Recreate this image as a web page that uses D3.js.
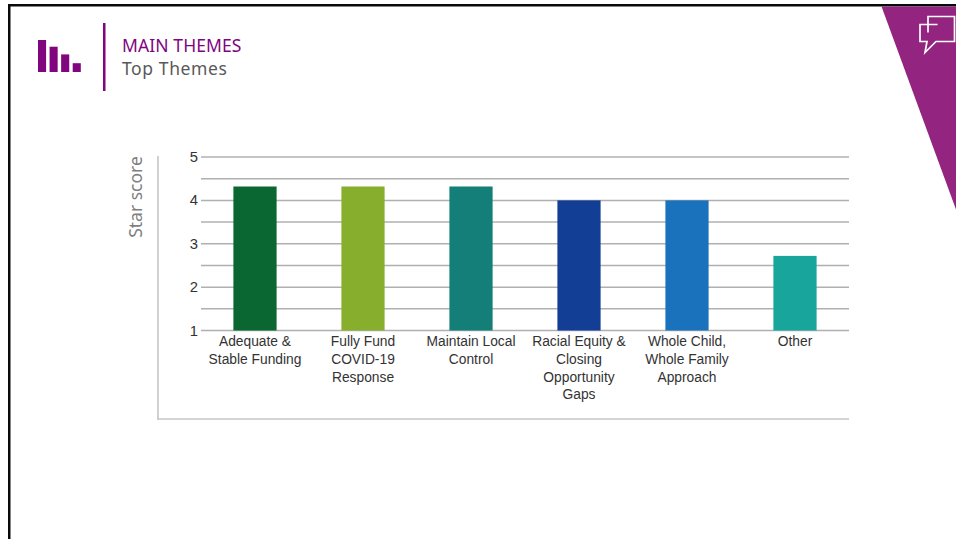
<!DOCTYPE html>
<meta charset="utf-8">
<script src="https://d3js.org/d3.v7.min.js"></script>
<style type="text/css">
    html, body { margin:0; padding:0; background:#fff; overflow:hidden; }
    svg { display:block; }
    .tick-y { font:14.8px "Liberation Sans", Arial, sans-serif; fill:#333; }
    .cat { font:13.8px "Liberation Sans", Arial, sans-serif; fill:#333; }
</style>
<body>
<svg width="956" height="539"></svg>
<script>
    let categories = ['Adequate & Stable Funding','Fully Fund COVID-19 Response','Maintain Local Control','Racial Equity & Closing Opportunity Gaps','Whole Child, Whole Family Approach','Other']
    let catLines = [['Adequate &','Stable Funding'],['Fully Fund','COVID-19','Response'],['Maintain Local','Control'],['Racial Equity &','Closing','Opportunity','Gaps'],['Whole Child,','Whole Family','Approach'],['Other']]
    let scores = [4.32,4.32,4.32,4,4,2.72]
    let barColors = ['#0b6731','#88ae2e','#137f78','#123f95','#1b72bc','#18a59c']
    let gridValues = [1,1.5,2,2.5,3,3.5,4,4.5,5]
    let tickValues = [1,2,3,4,5]
    let iconHeights = [4,3.16,2.2,1.1]

    let svg = d3.select('svg')

    let x = d3.scaleBand().domain(categories).range([201,849]).paddingInner(0.6).paddingOuter(0.3)
    let y = d3.scaleLinear().domain([1,5]).range([330.5,157])

    // frame
    svg.append('rect').attr('x',8).attr('y',4).attr('width',948).attr('height',2.5).attr('fill','#0a0a0a')
    svg.append('rect').attr('x',8).attr('y',4).attr('width',2.5).attr('height',535).attr('fill','#0a0a0a')

    // purple corner + speech icon
    svg.append('path').attr('d','M881.5 6.5 L956 6.5 L956 209.5 Z').attr('fill','#93247f')
    svg.append('path').attr('d','M928 24.5 L928 16.5 L954.5 16.5 L954.5 41.5 L936 41.5 L925 52.5 L927 41.5 L920 41.5 L920 24.5 Z M928 24.5 L928 32.5 M928 24.5 L937.5 24.5')
        .attr('fill','none').attr('stroke','#fff').attr('stroke-width',1.7)

    // header
    let iconX = d3.scaleBand().domain(d3.range(iconHeights.length)).range([38,80.8]).paddingInner(0.3).paddingOuter(0)
    let iconY = d3.scaleLinear().domain([0,4]).range([72,40])
    svg.append('g').selectAll('rect').data(iconHeights).enter().append('rect')
        .attr('x',(d,i)=>iconX(i))
        .attr('y',d=>iconY(d))
        .attr('width',iconX.bandwidth())
        .attr('height',d=>72-iconY(d))
        .attr('fill','#80057f')
    svg.append('rect').attr('x',103).attr('y',23).attr('width',2.5).attr('height',68).attr('fill','#80057f')
    svg.append('text').attr('x',122).attr('y',52).text('MAIN THEMES')
        .style('font','17.5px "Noto Sans", sans-serif').style('letter-spacing','0.1px').attr('fill','#80057f')
    svg.append('text').attr('x',122).attr('y',75).text('Top Themes')
        .style('font','17.5px "Noto Sans", sans-serif').style('letter-spacing','0.6px').attr('fill','#595959')

    // grid
    svg.append('g').selectAll('line').data(gridValues).enter().append('line')
        .attr('x1',201).attr('x2',849)
        .attr('y1',d=>y(d)).attr('y2',d=>y(d))
        .attr('stroke','#b0b0b0').attr('stroke-width',1.5)

    // outer axis lines
    svg.append('line').attr('x1',158).attr('x2',158).attr('y1',156).attr('y2',419.5).attr('stroke','#c4c6c6').attr('stroke-width',1.6)
    svg.append('line').attr('x1',157).attr('x2',849).attr('y1',419).attr('y2',419).attr('stroke','#c4c6c6').attr('stroke-width',1.6)

    // bars
    svg.append('g').selectAll('rect').data(scores).enter().append('rect')
        .attr('x',(d,i)=>x(categories[i]))
        .attr('y',d=>y(d))
        .attr('width',x.bandwidth())
        .attr('height',d=>y(1)-y(d))
        .attr('fill',(d,i)=>barColors[i])

    // y ticks
    svg.append('g').selectAll('text').data(tickValues).enter().append('text')
        .attr('class','tick-y')
        .attr('x',198).attr('y',d=>y(d)+5)
        .attr('text-anchor','end')
        .text(d=>d)

    // category labels
    let cats = svg.append('g').selectAll('text').data(categories).enter().append('text')
        .attr('class','cat')
        .attr('text-anchor','middle')
    cats.selectAll('tspan').data((d,i)=>catLines[i].map(t=>({t:t,c:d}))).enter().append('tspan')
        .attr('x',d=>x(d.c)+x.bandwidth()/2)
        .attr('y',(d,i)=>346+i*17.8)
        .text(d=>d.t)

    // y title
    svg.append('text').attr('transform','translate(142,197) rotate(-90)')
        .attr('text-anchor','middle').text('Star score')
        .style('font','17.5px "Noto Sans", sans-serif').attr('fill','#7f7f7f')
</script>
</body>
